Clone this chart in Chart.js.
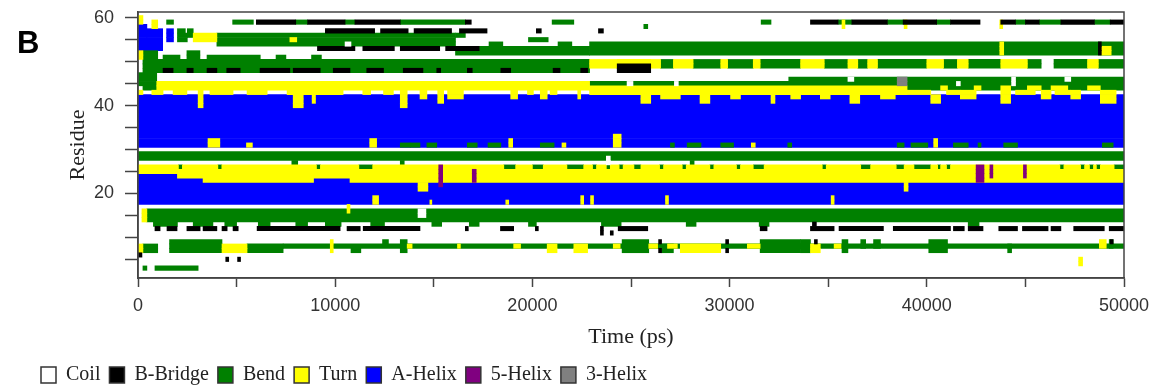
<!DOCTYPE html>
<html>
<head>
<meta charset="utf-8">
<script src="https://cdn.jsdelivr.net/npm/chart.js@4.4.1/dist/chart.umd.min.js"></script>
<style>
  html, body { margin: 0; padding: 0; background: #fff; }
  #wrap { position: relative; width: 1150px; height: 389px; }
  #panel { position: absolute; left: 17px; top: 27px; font: bold 31px "Liberation Sans", Arial, sans-serif; line-height: 31px; color: #000; }
</style>
</head>
<body>
<div id="wrap"><canvas id="dssp"></canvas><div id="panel">B</div></div>
<script>
// each entry: [first residue, last residue, start ps, end ps]
const coil = [
  [15, 16, 14200, 14600], [45, 45, 24800, 25100], [45, 45, 27200, 27400], [46, 46, 36000, 36300],
  [45, 45, 41500, 41700], [45, 46, 44300, 44500], [46, 46, 47000, 47300], [27, 28, 23750, 23950],
  [54, 54, 10500, 10800]
];

const bridge = [
  [59, 59, 6000, 8000], [59, 59, 8600, 10500], [59, 59, 11000, 13300], [59, 59, 16600, 16900],
  [59, 59, 34100, 35500], [59, 59, 36200, 38000], [59, 59, 38800, 40500], [59, 59, 41200, 42700],
  [59, 59, 43750, 44500], [59, 59, 45000, 45700], [59, 59, 46800, 48500], [59, 59, 49300, 50000],
  [57, 57, 9500, 12000], [57, 57, 12300, 13700], [57, 57, 14000, 15900], [57, 57, 16300, 17700],
  [57, 57, 20200, 20450], [57, 57, 23350, 23600],
  [53, 53, 9100, 11000], [53, 53, 11400, 13000], [53, 53, 13300, 15300], [53, 53, 15600, 17300],
  [52, 54, 48700, 48850],
  [48, 48, 1270, 1780], [48, 48, 2480, 2800], [48, 48, 3500, 4000], [48, 48, 4500, 5180],
  [48, 48, 6190, 7700], [48, 48, 7870, 9240], [48, 48, 9900, 10750], [48, 48, 11600, 12450],
  [48, 48, 13450, 14450], [48, 48, 15150, 15350], [48, 48, 16700, 16950], [48, 48, 18400, 18900],
  [48, 48, 21050, 21400], [48, 48, 22450, 22800], [48, 49, 24300, 26000],
  [13, 13, 34200, 34400],
  [12, 12, 860, 1120], [12, 12, 1470, 1980], [12, 12, 2480, 3150], [12, 12, 3300, 4000],
  [12, 12, 4260, 4520], [12, 12, 4820, 5080], [12, 12, 6040, 10250], [12, 12, 10600, 11270],
  [12, 12, 11420, 14300], [12, 12, 16600, 16750], [12, 12, 18380, 19050], [12, 12, 20150, 20300],
  [11, 12, 23450, 23600], [11, 11, 23950, 24100], [12, 12, 24350, 25850], [12, 12, 31550, 31900],
  [12, 12, 34100, 35300], [12, 12, 35550, 37800], [12, 12, 38300, 41200], [12, 12, 41350, 41900],
  [12, 12, 42100, 42850], [12, 12, 43650, 44600], [12, 12, 44850, 46150], [12, 12, 46300, 46800],
  [12, 12, 47450, 49000], [12, 12, 49250, 50000],
  [9, 9, 26400, 26550], [7, 7, 26400, 26550], [9, 9, 29800, 29950], [7, 7, 29800, 29950],
  [9, 9, 34300, 34450], [9, 9, 49300, 49450],
  [6, 6, 0, 200], [5, 5, 4450, 4600], [5, 5, 5050, 5200]
];

const bend = [
  [59, 59, 1450, 1800], [59, 59, 4800, 5850], [59, 59, 8000, 8600], [59, 59, 10500, 11000],
  [59, 59, 13300, 16600], [59, 59, 21000, 22100], [58, 58, 25650, 25850], [59, 59, 31600, 32100],
  [59, 59, 35500, 36200], [59, 59, 38000, 38800], [59, 59, 40500, 41200], [59, 59, 44500, 45000],
  [59, 59, 45700, 46800], [59, 59, 48500, 49300],
  [57, 57, 2000, 2400], [56, 57, 2500, 2800], [55, 56, 2000, 2500],
  [54, 56, 4000, 16100], [56, 56, 16100, 16600],
  [54, 54, 17800, 18500], [55, 55, 19800, 20800], [54, 54, 21300, 22000],
  [52, 53, 16100, 22900], [52, 54, 22900, 50000],
  [51, 52, 250, 1000], [48, 50, 250, 22900],
  [51, 51, 1270, 2130], [51, 52, 2480, 3140], [51, 51, 3500, 6200], [51, 51, 7000, 7500], [51, 51, 8800, 9300],
  [49, 50, 26500, 27150], [49, 50, 28150, 29550], [49, 50, 29900, 31200], [49, 50, 31550, 33600],
  [49, 50, 34800, 36000], [49, 50, 36500, 37000], [49, 50, 37500, 40000], [49, 50, 40850, 41550],
  [49, 50, 42100, 43750], [49, 50, 45100, 45800], [49, 50, 46450, 48150], [49, 50, 48700, 50000],
  [45, 47, 0, 950], [44, 44, 250, 950],
  [45, 45, 22900, 50000], [46, 46, 33000, 50000], [44, 44, 39000, 50000],
  [28, 29, 0, 50000],
  [27, 27, 7800, 8100], [27, 27, 13300, 13500], [27, 27, 28000, 28200],
  [26, 26, 2050, 2250], [26, 26, 4050, 4250], [26, 26, 9050, 9250], [26, 26, 11200, 11900],
  [26, 26, 18550, 19150], [26, 26, 20000, 20550], [26, 26, 21750, 22600], [26, 26, 23050, 23250],
  [26, 26, 23750, 23950], [26, 26, 24400, 24600], [26, 26, 25150, 25500], [26, 26, 26450, 26650],
  [26, 26, 27600, 27800], [26, 26, 29000, 29200], [26, 26, 30350, 30550], [26, 26, 31200, 31750],
  [26, 26, 34700, 34900], [26, 26, 36650, 37150], [26, 26, 38450, 38850], [26, 26, 39350, 40200],
  [26, 26, 40550, 40700], [26, 26, 41000, 41200], [26, 26, 46750, 46950], [26, 26, 47800, 48000],
  [26, 26, 48250, 48450], [26, 26, 48600, 48800], [26, 26, 49500, 50000],
  [31, 31, 13300, 13800], [31, 31, 13800, 14300], [31, 31, 14650, 15150], [31, 31, 16700, 17200],
  [31, 31, 17750, 18400], [31, 31, 20400, 21100], [31, 31, 27000, 27200], [31, 31, 27850, 28550],
  [31, 31, 29550, 30200], [31, 31, 32950, 33150], [31, 31, 38500, 38850], [31, 31, 39200, 40050],
  [31, 31, 41350, 42100], [31, 31, 42600, 42750], [31, 31, 43900, 44600], [31, 31, 48900, 49450],
  [14, 16, 450, 50000],
  [13, 13, 780, 2000], [13, 13, 2800, 3800], [13, 13, 4400, 5000], [13, 13, 6100, 6700],
  [13, 13, 8000, 8600], [13, 13, 9500, 10300], [13, 13, 11800, 12500], [13, 13, 14900, 15400],
  [13, 13, 16800, 17300], [13, 13, 19800, 20200], [13, 13, 23500, 24500], [13, 13, 27800, 28300],
  [13, 13, 31500, 32000], [13, 13, 42100, 42650],
  [7, 9, 1600, 4260], [7, 8, 250, 1000], [7, 8, 5530, 7360], [8, 8, 7360, 50000],
  [7, 7, 10800, 11300], [9, 9, 12400, 12700], [7, 9, 13300, 13650],
  [7, 9, 24550, 25900], [7, 8, 26550, 27150], [7, 9, 31550, 33600], [7, 9, 33600, 34100],
  [7, 9, 35700, 36000], [8, 9, 36650, 36900], [8, 9, 37300, 37650], [7, 9, 40100, 41050],
  [7, 8, 44100, 44300], [8, 9, 49250, 49450],
  [3, 3, 250, 450], [3, 3, 860, 3050]
];

const turn = [
  [59, 60, 0, 250], [58, 59, 700, 1000], [51, 52, 0, 250],
  [55, 56, 2800, 4000], [55, 55, 7700, 8050],
  [58, 59, 35700, 35850], [58, 59, 38850, 39000], [58, 59, 43700, 43850],
  [52, 54, 43700, 43900], [52, 53, 48850, 49350],
  [49, 50, 22900, 24300], [50, 50, 24300, 26000], [49, 50, 26000, 26500], [49, 50, 27150, 28150],
  [49, 50, 29550, 29900], [49, 50, 31200, 31550], [49, 50, 33600, 34800], [49, 50, 36000, 36500],
  [49, 50, 37000, 37500], [49, 50, 40000, 40850], [49, 50, 41550, 42100], [49, 50, 43750, 45100],
  [49, 50, 48150, 48700],
  [44, 45, 950, 22900],
  [43, 43, 0, 250], [43, 43, 700, 1270], [43, 43, 1780, 2480], [40, 43, 3050, 3300],
  [43, 43, 3650, 4820], [43, 43, 5530, 6550], [43, 43, 7560, 10400], [40, 42, 7870, 8380],
  [41, 42, 8830, 9000], [43, 43, 11400, 11800], [43, 43, 12450, 12950], [40, 43, 13300, 13650],
  [42, 43, 14300, 14650], [41, 43, 15200, 15500], [42, 43, 15700, 16500], [42, 43, 18900, 19250],
  [43, 43, 19750, 20050], [42, 43, 20400, 20750], [43, 43, 20900, 21250], [42, 43, 22300, 22450],
  [43, 44, 22900, 39000],
  [41, 42, 25500, 26000], [42, 42, 26500, 27500], [41, 42, 28500, 29000], [42, 42, 30050, 30550],
  [41, 42, 32100, 32300], [42, 42, 33100, 33600], [42, 42, 34600, 35100], [41, 42, 36100, 36600],
  [42, 42, 37650, 38400], [41, 42, 40200, 40700], [42, 43, 41700, 42500], [41, 43, 43750, 44250],
  [42, 43, 45800, 46300], [42, 43, 47300, 47800], [41, 43, 48800, 49600],
  [43, 43, 39000, 40200], [43, 43, 41000, 41700], [43, 43, 44500, 45500], [43, 43, 46500, 47300],
  [44, 44, 40700, 41050], [44, 44, 42400, 42750], [44, 44, 43750, 44250], [44, 44, 45100, 45800],
  [44, 44, 46300, 47150], [44, 44, 48150, 48800],
  [31, 32, 3550, 4150], [31, 31, 5500, 5800], [31, 32, 11750, 12100], [31, 32, 18800, 19000],
  [31, 31, 21500, 21700], [31, 33, 24100, 24500], [31, 31, 31100, 31300], [31, 32, 40350, 40550],
  [26, 26, 0, 2050], [26, 26, 2250, 4050], [26, 26, 4250, 9050], [26, 26, 9250, 11200],
  [26, 26, 11900, 18550], [26, 26, 19150, 20000], [26, 26, 20550, 21750], [26, 26, 22600, 23050],
  [26, 26, 23250, 23750], [26, 26, 23950, 24400], [26, 26, 24600, 25150], [26, 26, 25500, 26450],
  [26, 26, 26650, 27600], [26, 26, 27800, 29000], [26, 26, 29200, 30350], [26, 26, 30550, 31200],
  [26, 26, 31750, 34700], [26, 26, 34900, 36650], [26, 26, 37150, 38450], [26, 26, 38850, 39350],
  [26, 26, 40200, 40550], [26, 26, 40700, 41000], [26, 26, 41200, 46750], [26, 26, 46950, 47800],
  [26, 26, 48000, 48250], [26, 26, 48450, 48600], [26, 26, 48800, 49500],
  [25, 25, 0, 50000], [24, 24, 2000, 50000], [23, 23, 3300, 8900], [23, 23, 10750, 50000],
  [21, 22, 14200, 14700], [21, 22, 38850, 39050],
  [18, 19, 11900, 12200], [18, 19, 22450, 22600], [18, 19, 22950, 23100], [18, 19, 26750, 26900],
  [18, 18, 14800, 14900], [18, 19, 35150, 35300], [18, 18, 18650, 18800],
  [14, 16, 200, 450], [16, 17, 10600, 10750],
  [7, 8, 0, 250], [7, 8, 4260, 5530], [7, 9, 9750, 9900],
  [8, 8, 13650, 13900], [8, 8, 16200, 16350], [8, 8, 19050, 19400], [7, 8, 20750, 21250],
  [7, 8, 22100, 22800], [8, 8, 24100, 24450], [8, 8, 25900, 26350], [8, 8, 26850, 27350],
  [7, 8, 27500, 29550], [8, 8, 30900, 31550], [7, 8, 34100, 34600], [8, 8, 35300, 35650],
  [8, 9, 48750, 49100],
  [4, 5, 47700, 47900]
];

const helixA = [
  [53, 58, 0, 450], [53, 57, 450, 1250], [55, 57, 1450, 1800],
  [31, 42, 0, 50000],
  [18, 22, 0, 50000], [24, 24, 0, 2000], [23, 23, 0, 3300], [23, 23, 8900, 10750]
];

const helix5 = [
  [22, 26, 15250, 15450], [23, 25, 16950, 17150], [23, 26, 42500, 42900],
  [24, 26, 43200, 43350], [24, 26, 44900, 45050]
];

const helix3 = [
  [45, 46, 38500, 39000]
];

const ssLabels = ['Coil', 'B-Bridge', 'Bend', 'Turn', 'A-Helix', '5-Helix', '3-Helix'];
const ssColors = ['#ffffff', '#000000', '#008000', '#ffff00', '#0000ff', '#800080', '#808080'];
const ssSegments = [coil, bridge, bend, turn, helixA, helix5, helix3];
const ssDrawOrder = [0, 3, 5, 4, 6, 2, 1];

const yLabelTicks = [20, 40, 60];
const xLabelTicks = [0, 10000, 20000, 30000, 40000, 50000];

function toBars(list) {
  const out = [];
  list.forEach(([r0, r1, t0, t1]) => {
    for (let r = r0; r <= r1; r++) out.push({ x: [t0, t1], y: r });
  });
  return out;
}

const datasets = ssLabels.map((label, i) => ({
  label,
  data: toBars(ssSegments[i]),
  backgroundColor: ssColors[i],
  borderWidth: 0,
  grouped: false,
  barPercentage: 1,
  categoryPercentage: 1,
  order: ssDrawOrder[i],
}));

const axisColor = '#444';

const framePlugin = {
  id: 'frame',
  afterDatasetsDraw(chart) {
    const { ctx, chartArea: a } = chart;
    ctx.save();
    ctx.strokeStyle = axisColor;
    ctx.lineWidth = 1.5;
    ctx.strokeRect(a.left, a.top, a.right - a.left, a.bottom - a.top);
    ctx.restore();
  },
};

Chart.defaults.font.family = '"Liberation Sans", Arial, sans-serif';

new Chart(document.getElementById('dssp'), {
  type: 'bar',
  data: { datasets },
  options: {
    indexAxis: 'y',
    responsive: true,
    maintainAspectRatio: false,
    animation: false,
    layout: { padding: { left: 32, right: 26, top: 12, bottom: -6 } },
    scales: {
      x: {
        type: 'linear',
        min: 0,
        max: 50000,
        offset: false,
        grid: { drawOnChartArea: false, drawTicks: true, tickLength: 9, tickColor: axisColor, tickWidth: 1.5, offset: false },
        border: { display: true, color: axisColor, width: 1.5 },
        ticks: {
          stepSize: 5000,
          autoSkip: false,
          maxRotation: 0,
          padding: 8,
          color: '#333',
          font: { size: 18 },
          callback: (v) => (xLabelTicks.includes(v) ? String(v) : ''),
        },
        title: {
          display: true,
          text: 'Time (ps)',
          color: '#222',
          font: { family: '"Liberation Serif", "Times New Roman", serif', size: 22, lineHeight: 1.2 },
          padding: { top: 0, bottom: 6 },
        },
        afterFit: (s) => { s.height = 78; s.paddingLeft = 0; s.paddingRight = 0; },
      },
      y: {
        type: 'linear',
        min: 0.75,
        max: 61.3,
        offset: false,
        grid: { drawOnChartArea: false, drawTicks: true, tickLength: 13, tickColor: axisColor, tickWidth: 1.5, offset: false },
        border: { display: true, color: axisColor, width: 1.5 },
        ticks: {
          stepSize: 5,
          includeBounds: false,
          autoSkip: false,
          padding: 11,
          color: '#333',
          font: { size: 18 },
          callback: (v) => (yLabelTicks.includes(v) ? String(v) : ''),
        },
        title: {
          display: true,
          text: 'Residue',
          color: '#222',
          font: { family: '"Liberation Serif", "Times New Roman", serif', size: 22, lineHeight: 1.2 },
          padding: { top: 33, bottom: 0 },
        },
        afterFit: (s) => { s.width = 106; s.paddingTop = 0; s.paddingBottom = 0; },
      },
    },
    plugins: {
      tooltip: { enabled: false },
      legend: {
        position: 'bottom',
        align: 'start',
        labels: {
          boxWidth: 15,
          boxHeight: 16,
          padding: 9,
          color: '#222',
          font: { family: '"Liberation Serif", "Times New Roman", serif', size: 20 },
          generateLabels: (chart) => chart.data.datasets.map((ds, i) => ({
            text: ds.label,
            fillStyle: ds.backgroundColor,
            strokeStyle: '#333',
            lineWidth: 1.5,
            hidden: false,
            datasetIndex: i,
            fontColor: '#222',
          })),
        },
      },
    },
  },
  plugins: [framePlugin],
});
</script>
</body>
</html>
